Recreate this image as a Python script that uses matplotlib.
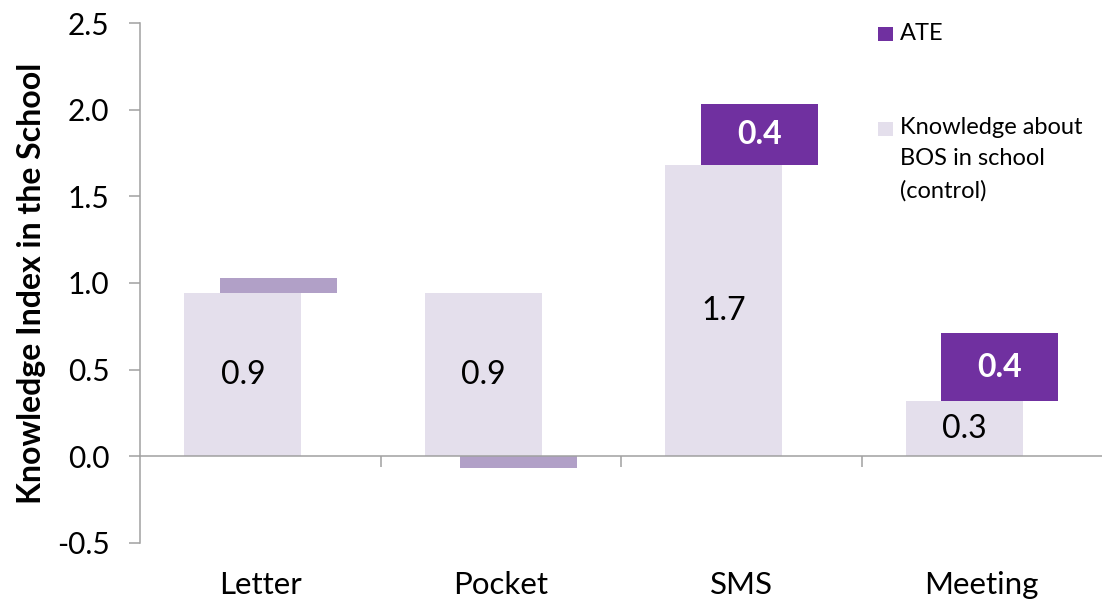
import matplotlib
matplotlib.use("Agg")
import matplotlib.pyplot as plt
from matplotlib.patches import Rectangle
from matplotlib.transforms import blended_transform_factory

plt.rcParams['font.family'] = ['Lato', 'DejaVu Sans']

categories = ["Letter", "Pocket", "SMS", "Meeting"]
control = [0.94, 0.94, 1.68, 0.32]
ate = [0.09, -0.07, 0.35, 0.39]
control_labels = ["0.9", "0.9", "1.7", "0.3"]
ate_labels = ["", "", "0.4", "0.4"]
significant = [False, False, True, True]
yticks = [-0.5, 0.0, 0.5, 1.0, 1.5, 2.0, 2.5]
ytick_labels = ["-0.5", "0.0", "0.5", "1.0", "1.5", "2.0", "2.5"]

C_CONTROL = "#E4DFEC"
C_ATE = "#7030A0"
C_ATE_NS = "#B1A0C7"
C_AXIS = "#A0A0A0"

fig = plt.figure(figsize=(11.02, 6.05), dpi=100)
ax = fig.add_axes([140 / 1102, 1 - 543 / 605, 962 / 1102, 520 / 605])

W = 0.487
x = list(range(len(categories)))
xc = [i - 0.072 for i in x]
xa = [i + 0.075 for i in x]
ate_bottom = [c if a >= 0 else 0 for c, a in zip(control, ate)]
ate_colors = [C_ATE if s else C_ATE_NS for s in significant]

ax.bar(xc, control, width=W, color=C_CONTROL, zorder=2)
ax.bar(xa, ate, width=W, bottom=ate_bottom, color=ate_colors, zorder=2)

for i in x:
    ax.text(xc[i], control[i] / 2, control_labels[i], ha='center', va='center',
            fontsize=23, color='black', zorder=3)
    if ate_labels[i]:
        ax.text(xa[i], ate_bottom[i] + ate[i] / 2, ate_labels[i], ha='center',
                va='center', fontsize=23, fontweight='bold', color='white', zorder=3)

ax.set_xlim(-0.5, 3.5)
ax.set_ylim(-0.5, 2.5)
ax.set_yticks(yticks, labels=ytick_labels)
ax.tick_params(axis='y', labelsize=21.5, length=8, width=1.1, color=C_AXIS, pad=14)

ax.spines['top'].set_visible(False)
ax.spines['right'].set_visible(False)
ax.spines['left'].set_color(C_AXIS)
ax.spines['left'].set_linewidth(1.1)
ax.spines['bottom'].set_position(('data', 0))
ax.spines['bottom'].set_color(C_AXIS)
ax.spines['bottom'].set_linewidth(1.1)
ax.spines['bottom'].set_zorder(4)
ax.set_xticks([0.5, 1.5, 2.5], labels=[])
ax.tick_params(axis='x', length=8, width=1.1, color=C_AXIS, direction='out')

trans = blended_transform_factory(ax.transData, ax.transAxes)
for i, c in enumerate(categories):
    ax.text(i, -0.081, c, transform=trans, ha='center', va='center', fontsize=22.5)

ax.set_ylabel("Knowledge Index in the School", fontsize=23, fontweight='bold')
ax.yaxis.set_label_coords(-0.098, 0.5)

# legend
fig.patches.append(Rectangle((878 / 1102, 1 - 41 / 605), 15 / 1102, 14 / 605,
                             transform=fig.transFigure, facecolor=C_ATE, edgecolor='none'))
fig.text(900 / 1102, 1 - 34 / 605, "ATE", ha='left', va='center', fontsize=17)
fig.patches.append(Rectangle((878 / 1102, 1 - 136 / 605), 15 / 1102, 14 / 605,
                             transform=fig.transFigure, facecolor=C_CONTROL, edgecolor='none'))
fig.text(900 / 1102, 1 - 117 / 605, "Knowledge about\nBOS in school\n(control)",
         ha='left', va='top', fontsize=17, linespacing=1.6)

fig.savefig("out.png", dpi=100)
